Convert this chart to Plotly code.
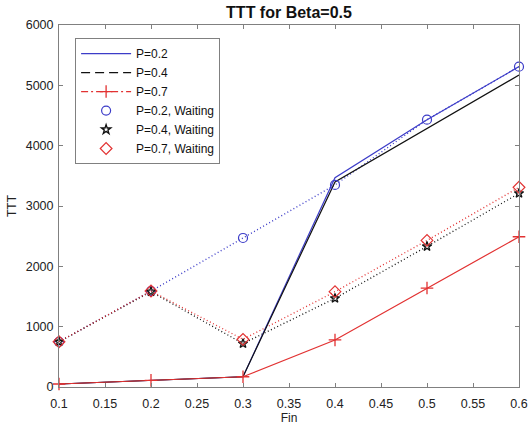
import plotly.graph_objects as go

fin = [0.1, 0.2, 0.3, 0.4, 0.5, 0.6]
p02 = [50, 110, 170, 3470, 4430, 5310]
p04 = [50, 110, 170, 3400, 4290, 5170]
p07 = [50, 110, 170, 780, 1640, 2490]
p02_wait = [750, 1590, 2470, 3350, 4430, 5310]
p04_wait = [750, 1580, 720, 1470, 2330, 3210]
p07_wait = [750, 1590, 790, 1580, 2430, 3310]

xticks = [0.1, 0.15, 0.2, 0.25, 0.3, 0.35, 0.4, 0.45, 0.5, 0.55, 0.6]
xticklabels = ["0.1", "0.15", "0.2", "0.25", "0.3", "0.35", "0.4", "0.45", "0.5", "0.55", "0.6"]
yticks = [0, 1000, 2000, 3000, 4000, 5000, 6000]

BLUE = "#3c3cc8"
BLACK = "#111111"
RED = "#e23232"

fig = go.Figure()

# dotted connecting lines for waiting series (no legend)
for ys, c in [(p02_wait, BLUE), (p04_wait, BLACK), (p07_wait, RED)]:
    fig.add_trace(go.Scatter(x=fin, y=ys, mode="lines", showlegend=False,
                             line=dict(color=c, width=1.3, dash="1px,2.5px")))

# main lines (drawn solid, legend-only twins carry the legend style)
fig.add_trace(go.Scatter(x=fin, y=p02, mode="lines", showlegend=False,
                         line=dict(color=BLUE, width=1.2)))
fig.add_trace(go.Scatter(x=fin, y=p04, mode="lines", showlegend=False,
                         line=dict(color=BLACK, width=1.2)))
fig.add_trace(go.Scatter(x=fin, y=p07, mode="lines+markers", showlegend=False,
                         cliponaxis=False,
                         line=dict(color=RED, width=1.2),
                         marker=dict(symbol="cross-thin-open", size=9,
                                     line=dict(color=RED, width=1.3))))

# legend entries
fig.add_trace(go.Scatter(x=[None], y=[None], mode="lines", name="P=0.2",
                         line=dict(color=BLUE, width=1.2)))
fig.add_trace(go.Scatter(x=[None], y=[None], mode="lines", name="P=0.4",
                         line=dict(color=BLACK, width=1.2, dash="9px,5px")))
fig.add_trace(go.Scatter(x=[None], y=[None], mode="lines+markers", name="P=0.7",
                         line=dict(color=RED, width=1.2, dash="7px,3px,2px,3px"),
                         marker=dict(symbol="cross-thin-open", size=9,
                                     line=dict(color=RED, width=1.3))))

fig.add_trace(go.Scatter(x=fin, y=p02_wait, mode="markers", name="P=0.2, Waiting",
                         cliponaxis=False,
                         marker=dict(symbol="circle-open", size=9, color=BLUE,
                                     line=dict(color=BLUE, width=1.2))))
fig.add_trace(go.Scatter(x=fin, y=p04_wait, mode="markers", name="P=0.4, Waiting",
                         cliponaxis=False,
                         marker=dict(symbol="star-open", size=7, color=BLACK,
                                     line=dict(color=BLACK, width=1.3))))
fig.add_trace(go.Scatter(x=fin, y=p07_wait, mode="markers", name="P=0.7, Waiting",
                         cliponaxis=False,
                         marker=dict(symbol="diamond-open", size=9, color=RED,
                                     line=dict(color=RED, width=1.2))))

axis_common = dict(showgrid=False, zeroline=False, showline=True, mirror="ticks",
                   linecolor="#808080", linewidth=1, ticks="inside", ticklen=4,
                   tickcolor="#808080", automargin=False,
                   tickfont=dict(size=12.5, color="#222222"))

fig.update_layout(
    width=530, height=431,
    margin=dict(l=59, r=11, t=25, b=44),
    paper_bgcolor="white", plot_bgcolor="white",
    font=dict(family="Liberation Sans, Arial, sans-serif", size=12, color="#222222"),
    title=dict(text="<b>TTT for Beta=0.5</b>", xref="paper", x=0.5, xanchor="center",
               y=0.972, yanchor="middle", font=dict(size=16, color="#111111")),
    xaxis=dict(range=[0.1, 0.6], tickvals=xticks, ticktext=xticklabels,
               ticklabelstandoff=5,
               title=dict(text="Fin", standoff=3, font=dict(size=12)), **axis_common),
    yaxis=dict(range=[0, 6000], tickvals=yticks, ticklabelstandoff=2,
               title=dict(text="TTT", standoff=6, font=dict(size=12)), **axis_common),
    legend=dict(x=0.035, y=0.964, xanchor="left", yanchor="top",
                bgcolor="white", bordercolor="#808080", borderwidth=1,
                font=dict(size=12, color="#111111"), tracegroupgap=0,
                itemwidth=50),
    showlegend=True,
)

fig.write_html("out.html")
